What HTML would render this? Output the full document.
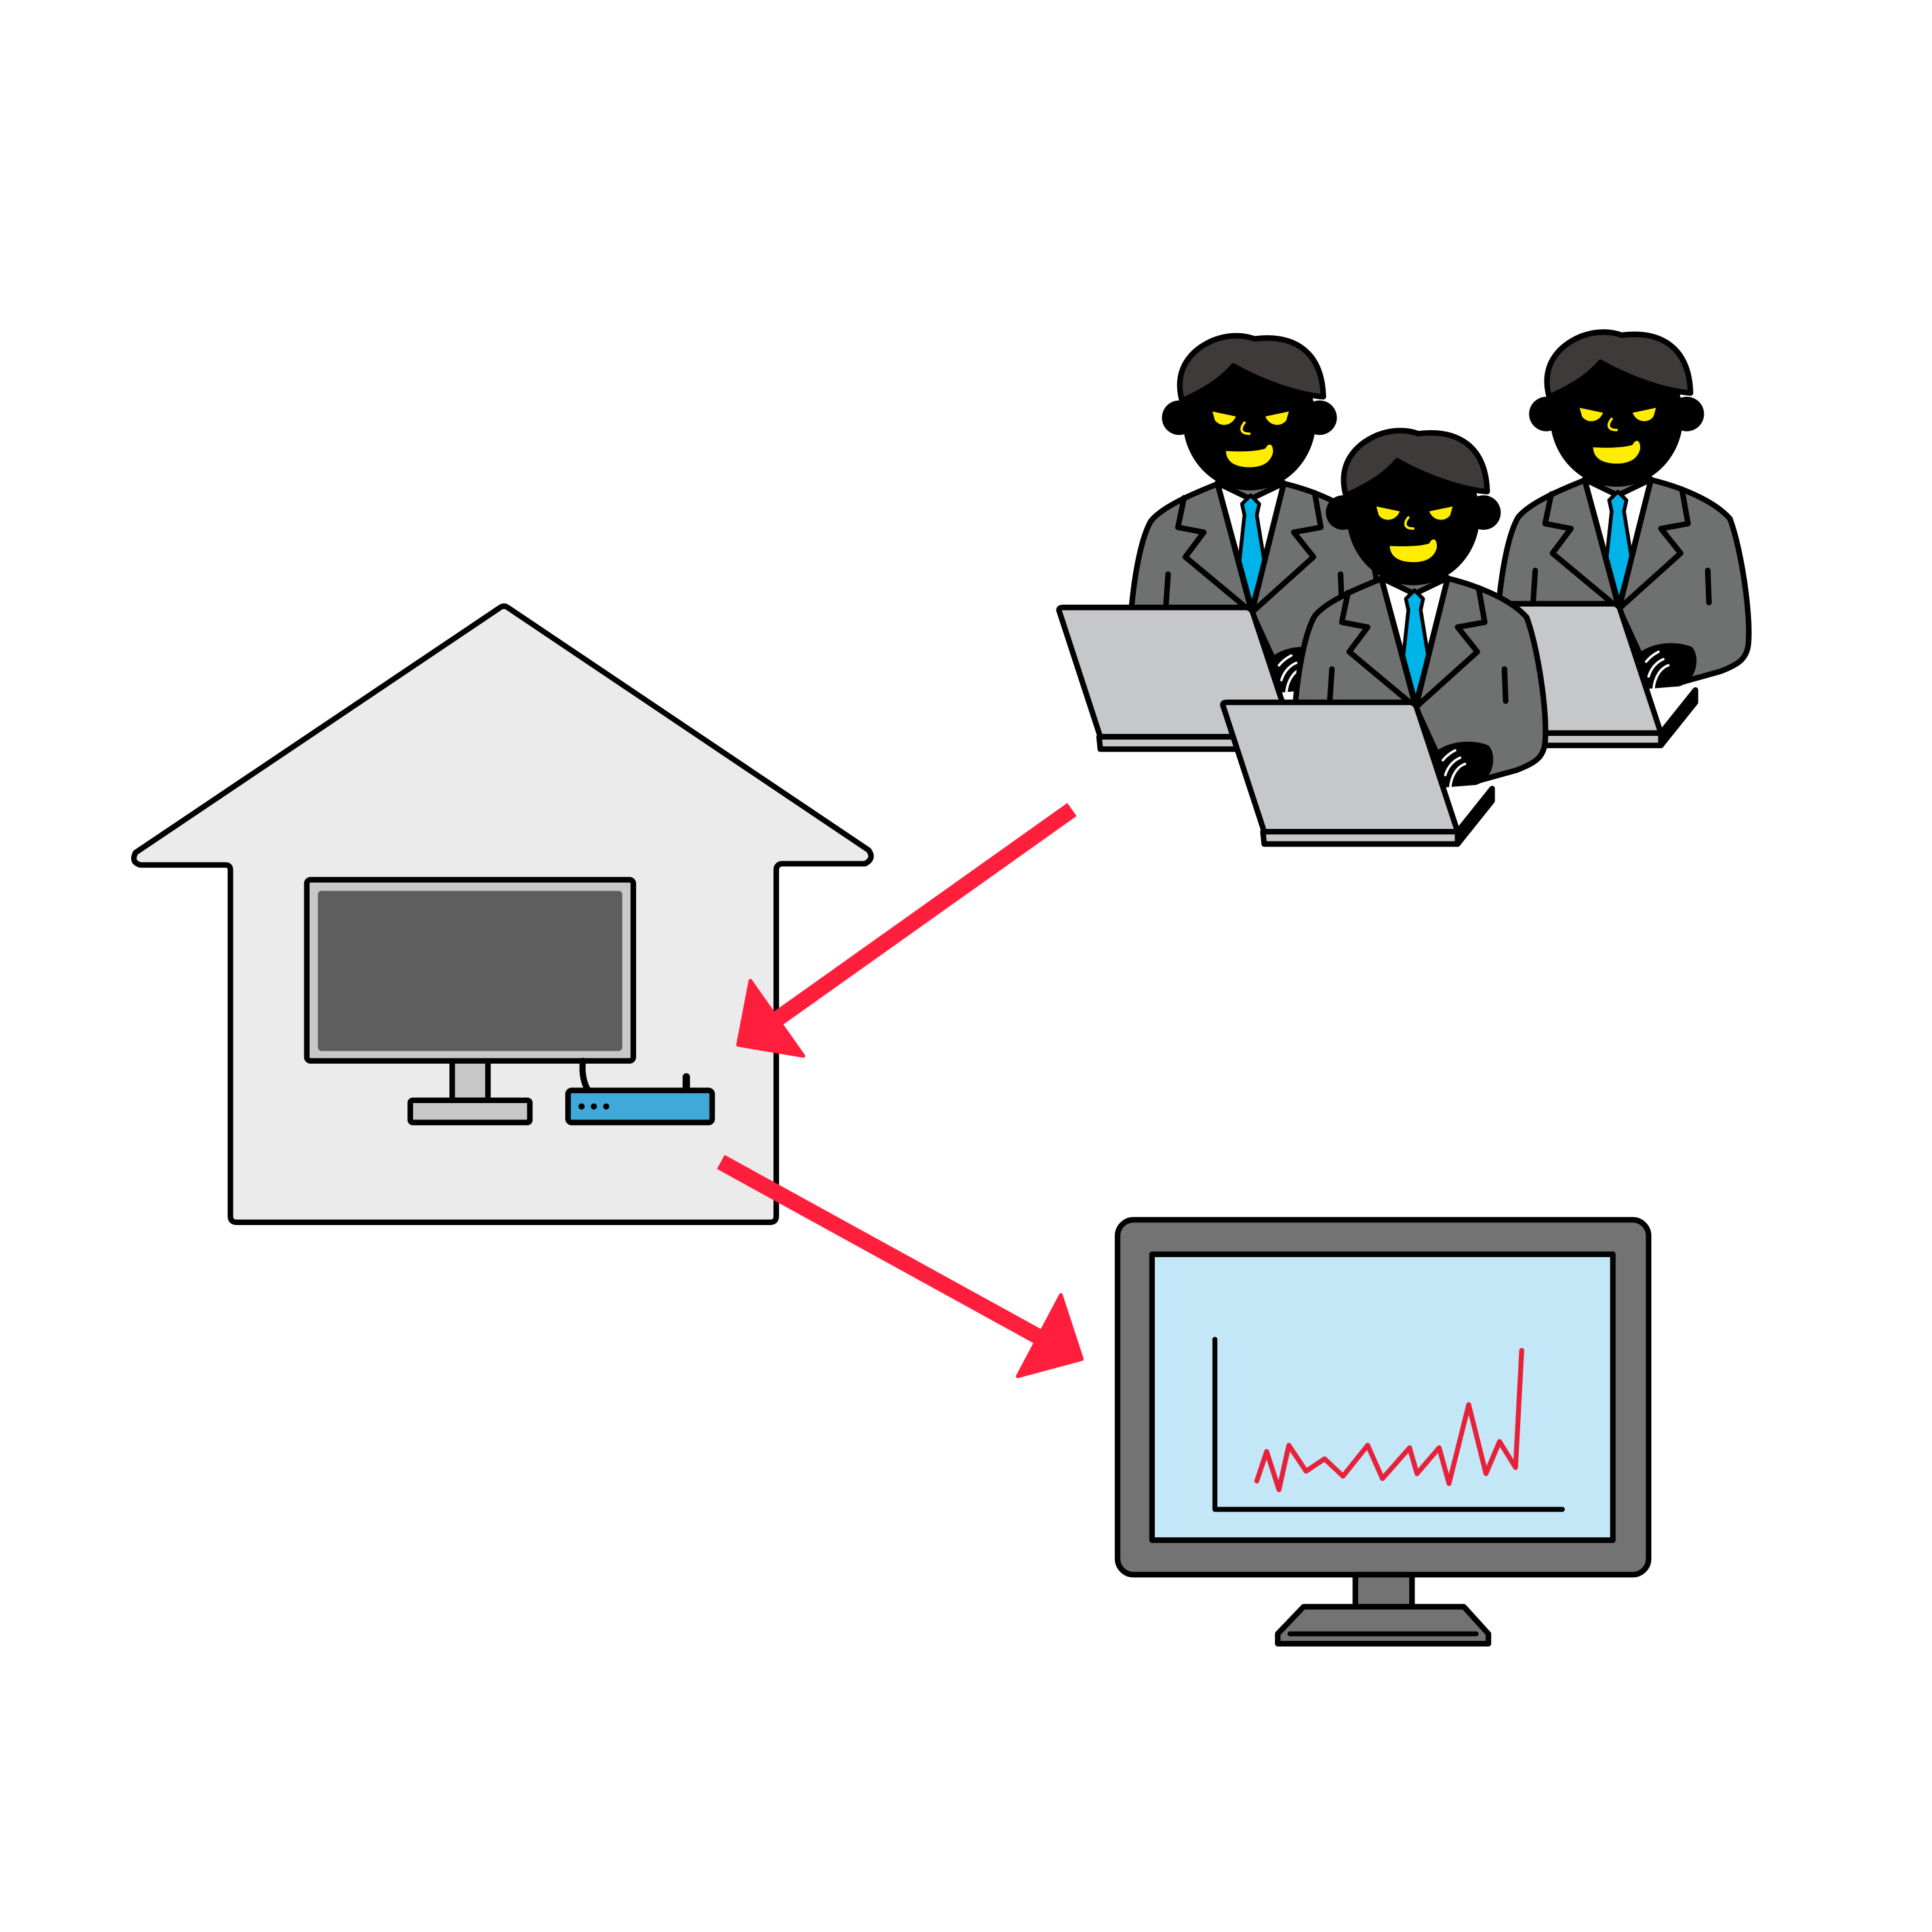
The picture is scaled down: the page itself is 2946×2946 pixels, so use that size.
<!DOCTYPE html>
<html><head><meta charset="utf-8"><style>html,body{margin:0;padding:0;background:#fff}svg{display:block}</style></head>
<body>
<svg width="2946" height="2946" viewBox="0 0 1568 1568" xmlns="http://www.w3.org/2000/svg" stroke-linejoin="round" stroke-linecap="round">
<rect width="1568" height="1568" fill="#fff"/>
<defs>
<g id="man">
  <path d="M918 497 C921 462 927 435 934 423 C944 410 975 398 990 392 L1040 392 C1062 397 1092 408 1106 424 C1115 448 1123 500 1121 525 C1120 537 1114 542 1098 548 L1062 558 L1038 545 L1016 497 Z" fill="#6f7170" stroke="#000" stroke-width="4.5"/>
  <path d="M988 392 L1015 405 L1042 392 L1016 495 Z" fill="#fff" stroke="#000" stroke-width="4.5"/>
  <path d="M1008 409 L1015 402 L1022 409 L1020 418 L1026 455 L1016 492 L1006 455 L1010 418 Z" fill="#00b4ea" stroke="#000" stroke-width="3"/>
  <path d="M988 392 L1016 497 L962 452 L977 432 L956 428 L961 404" fill="none" stroke="#000" stroke-width="4.5"/>
  <path d="M1042 392 L1016 497 L1066 452 L1050 432 L1072 428 L1067 400" fill="none" stroke="#000" stroke-width="4.5"/>
  <path d="M948 466 L946 496 M1088 466 L1089 492" stroke="#000" stroke-width="4.5" fill="none"/>
  <path d="M1030 535 C1040 525 1060 522 1075 528 C1082 535 1080 555 1065 560 L1040 562 Z" fill="#000"/>
  <path d="M1038 540 C1042 535 1046 533 1048 532 M1040 552 C1042 545 1047 540 1052 538 M1044 562 C1045 552 1050 545 1056 543" stroke="#fff" stroke-width="2" fill="none"/>
  <path d="M860 497 Q858 493 863 493 L1012 493 Q1016 494 1017 498 L1050 598 L893 598 Z" fill="#c6c7c9" stroke="#000" stroke-width="4.5"/>
  <path d="M892 598 L1050 598 L1050 608 L893 608 Z" fill="#c6c7c9" stroke="#000" stroke-width="4.5"/>
  <path d="M1050 598 L1078 563 L1078 573 L1050 608 Z" fill="#000" stroke="#000" stroke-width="4.5"/>
  <circle cx="957" cy="339" r="14" fill="#000"/>
  <circle cx="1071" cy="339" r="14" fill="#000"/>
  <ellipse cx="1014" cy="341" rx="54" ry="57" fill="#000"/>
  <path d="M959 324 C953 300 966 284 985 276 C998 271 1010 272 1018 275 C1050 271 1073 285 1074 322 C1050 320 1020 308 1001 297 C990 310 975 318 962 324 Z" fill="#3e3a39" stroke="#000" stroke-width="4.5"/>
  <path d="M984 334 L1003 338 C1000 346 990 347 986 341 Z" fill="#ffed00"/>
  <path d="M1046 334 L1027 338 C1030 346 1040 347 1044 341 Z" fill="#ffed00"/>
  <path d="M1010 343 C1006 348 1007 352 1014 352" stroke="#ffed00" stroke-width="2" fill="none"/>
  <path d="M995 366 C1008 367 1022 366 1027 364 C1030 358 1034 361 1033 368 C1030 378 1020 380 1010 379 C1000 378 995 373 995 366 Z" fill="#ffed00"/>
</g>
</defs>

<path d="M406 493 Q409 491 412 493 L705 690 Q710 697 702 701 L634 701 Q630 702 630 706 L630 987 Q630 992 625 992 L192 992 Q187 992 187 987 L187 706 Q187 702 183 702 L114 702 Q106 700 110 692 Z" fill="#ebebeb" stroke="#000" stroke-width="4.5"/>
<rect x="249" y="714" width="265" height="147" rx="3" fill="#c8c8c8" stroke="#000" stroke-width="4.5"/>
<rect x="258" y="723" width="247" height="130" rx="3" fill="#5e5e5e"/>
<rect x="367" y="861" width="29" height="32" fill="#c8c8c8" stroke="#000" stroke-width="4.5"/>
<rect x="333" y="893" width="97" height="18" rx="2" fill="#c8c8c8" stroke="#000" stroke-width="4.5"/>
<path d="M473 861 C472 872 474 880 478 886" stroke="#000" stroke-width="5" fill="none"/>
<path d="M557 874 L557 885" stroke="#000" stroke-width="6"/>
<rect x="461" y="885" width="117" height="26" rx="3" fill="#3fa9d9" stroke="#000" stroke-width="4.5"/>
<circle cx="472" cy="898" r="2.5" fill="#000"/><circle cx="482" cy="898" r="2.5" fill="#000"/><circle cx="492" cy="898" r="2.5" fill="#000"/>

<rect x="907" y="990" width="431" height="288" rx="13" fill="#737373" stroke="#000" stroke-width="4.5"/>
<rect x="935" y="1018" width="374" height="232" fill="#c4e7f7" stroke="#000" stroke-width="4.5"/>
<rect x="1100" y="1278" width="46" height="36" fill="#737373" stroke="#000" stroke-width="4.5"/>
<path d="M1037 1326 L1058 1304 L1188 1304 L1208 1326 L1208 1334 L1037 1334 Z" fill="#737373" stroke="#000" stroke-width="4.5"/>
<path d="M1047 1326 L1198 1326" stroke="#000" stroke-width="4"/>
<path d="M986 1087 L986 1225 L1268 1225" stroke="#000" stroke-width="4" fill="none"/>
<polyline points="1020,1202 1028,1178 1038,1209 1046,1173 1060,1194 1075,1184 1090,1198 1110,1173 1122,1200 1144,1175 1150,1196 1168,1175 1176,1204 1192,1140 1206,1196 1217,1170 1230,1191 1235,1096" fill="none" stroke="#e8213a" stroke-width="4"/>

<path d="M870 657 L628 829" stroke="#ff1f3d" stroke-width="13" stroke-linecap="butt"/>
<path d="M609 796 L599 848 L652 857 Z" fill="#ff1f3d" stroke="#ff1f3d" stroke-width="3"/>
<path d="M585 943 L843 1085" stroke="#ff1f3d" stroke-width="13" stroke-linecap="butt"/>
<path d="M861 1051 L878 1103 L826 1117 Z" fill="#ff1f3d" stroke="#ff1f3d" stroke-width="3"/>

<use href="#man"/>
<use href="#man" transform="translate(298,-3)"/>
<use href="#man" transform="translate(133,77)"/>
</svg>
</body></html>
